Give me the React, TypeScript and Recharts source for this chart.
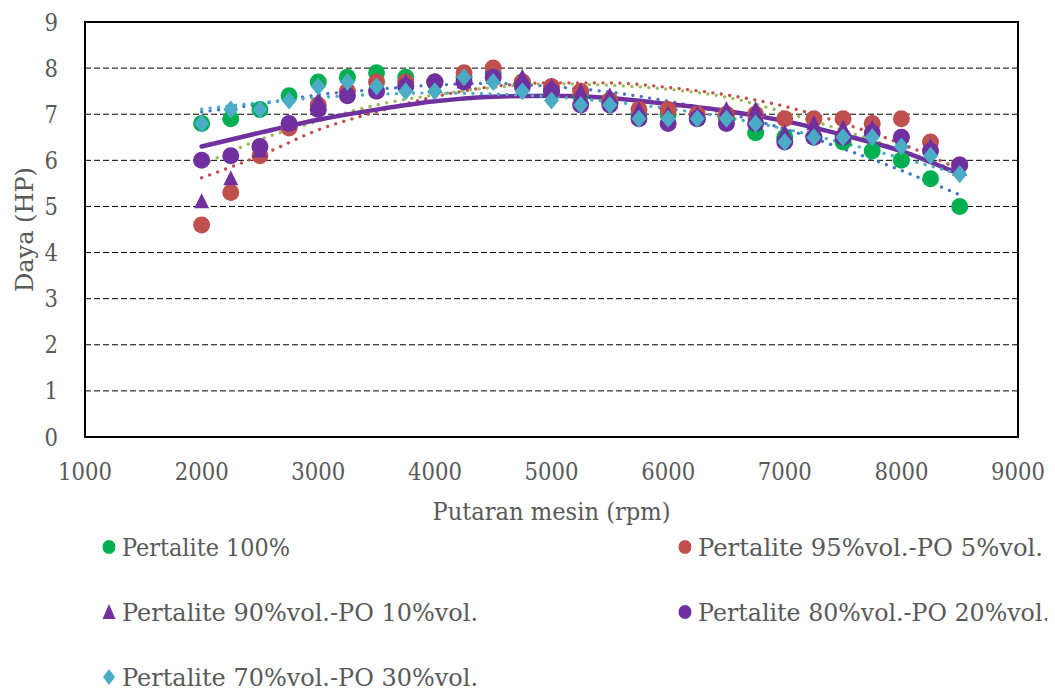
import React from "react";
import {
  ComposedChart,
  Scatter,
  Line,
  XAxis,
  YAxis,
  CartesianGrid,
  ReferenceArea,
} from "recharts";

// ---- data ----
const rpm = [
  2000, 2250, 2500, 2750, 3000, 3250, 3500, 3750, 4000, 4250, 4500, 4750, 5000,
  5250, 5500, 5750, 6000, 6250, 6500, 6750, 7000, 7250, 7500, 7750, 8000, 8250,
  8500,
];
const p100 = [
  6.8, 6.9, 7.1, 7.4, 7.7, 7.8, 7.9, 7.8, 7.7, 7.8, 7.9, 7.7, 7.5, 7.4, 7.3,
  7.0, 7.0, 6.9, 6.9, 6.6, 6.5, 6.5, 6.4, 6.2, 6.0, 5.6, 5.0,
];
const p95 = [
  4.6, 5.3, 6.1, 6.7, 7.2, 7.5, 7.7, 7.7, 7.7, 7.9, 8.0, 7.7, 7.6, 7.5, 7.3,
  7.1, 7.1, 7.0, 7.0, 7.0, 6.9, 6.9, 6.9, 6.8, 6.9, 6.4, 5.9,
];
const p90 = [
  5.1, 5.6, 6.2, 6.8, 7.3, 7.5, 7.6, 7.7, 7.6, 7.7, 7.8, 7.8, 7.6, 7.5, 7.4,
  7.1, 7.0, 7.0, 7.1, 7.1, 6.6, 6.8, 6.7, 6.7, 6.4, 6.3, 5.8,
];
const p80 = [
  6.0, 6.1, 6.3, 6.8, 7.1, 7.4, 7.5, 7.6, 7.7, 7.7, 7.8, 7.6, 7.5, 7.2, 7.2,
  6.9, 6.8, 6.9, 6.8, 6.8, 6.4, 6.5, 6.5, 6.6, 6.5, 6.2, 5.9,
];
const p70 = [
  6.8, 7.1, 7.1, 7.3, 7.6, 7.7, 7.6, 7.5, 7.5, 7.8, 7.7, 7.5, 7.3, 7.2, 7.2,
  6.9, 6.9, 6.9, 6.9, 6.8, 6.4, 6.5, 6.5, 6.5, 6.3, 6.1, 5.7,
];

// trendlines
const trendRpm = [
  2000, 2500, 3000, 3500, 4000, 4500, 5000, 5500, 6000, 6500, 7000, 7500, 8000,
  8500,
];
const trend100 = [7.05, 7.22, 7.42, 7.54, 7.63, 7.67, 7.6, 7.48, 7.28, 7.02, 6.68, 6.25, 5.78, 5.25];
const trend95 = [5.62, 6.1, 6.66, 7.05, 7.38, 7.6, 7.68, 7.68, 7.58, 7.42, 7.17, 6.8, 6.36, 5.8];
const trend90 = [5.9, 6.45, 6.85, 7.2, 7.42, 7.58, 7.66, 7.63, 7.54, 7.37, 7.04, 6.65, 6.22, 5.75];
const trend80 = [6.3, 6.6, 6.88, 7.1, 7.28, 7.38, 7.4, 7.35, 7.22, 7.07, 6.85, 6.55, 6.2, 5.7];
const trend70 = [7.11, 7.25, 7.36, 7.43, 7.46, 7.44, 7.38, 7.27, 7.12, 6.93, 6.68, 6.38, 6.05, 5.7];

const xTicks = [1000, 2000, 3000, 4000, 5000, 6000, 7000, 8000, 9000];
const yTicks = [0, 1, 2, 3, 4, 5, 6, 7, 8, 9];

const seriesNames = [
  "Pertalite 100%",
  "Pertalite 95%vol.-PO 5%vol.",
  "Pertalite 90%vol.-PO 10%vol.",
  "Pertalite 80%vol.-PO 20%vol.",
  "Pertalite 70%vol.-PO 30%vol.",
];
const seriesColors = ["#00B050", "#C0504D", "#7030A0", "#7030A0", "#4BACC6"];
const seriesShapes = ["circle", "circle", "triangle", "circle", "diamond"];
const seriesValues = [p100, p95, p90, p80, p70];

const trendValues = [trend100, trend95, trend90, trend80, trend70];
const trendColors = ["#4472C4", "#C0504D", "#9BBB59", "#7030A0", "#4BACC6"];
const trendSolid = [false, false, false, true, false];

// ---- style ----
const FONT = "'DejaVu Serif', serif";
const FS = 24;
const TEXT = "#595959";
const legendWidths = [168, 345, 356, 352, 356];
const legendCols = [101, 677];
const legendRows = [39, 104, 169];

const toPoints = (xs: number[], ys: number[]) =>
  xs.map((x, i) => ({ x, y: ys[i] }));

function makeShape(kind: string, color: string) {
  return (props: any) => {
    const { cx, cy } = props;
    if (cx == null || cy == null) return <g />;
    if (kind === "triangle") {
      return (
        <polygon
          points={`${cx},${cy - 8.5} ${cx + 7.5},${cy + 6.5} ${cx - 7.5},${cy + 6.5}`}
          fill={color}
        />
      );
    }
    if (kind === "diamond") {
      return (
        <polygon
          points={`${cx},${cy - 9} ${cx + 7.5},${cy} ${cx},${cy + 9} ${cx - 7.5},${cy}`}
          fill={color}
        />
      );
    }
    return <circle cx={cx} cy={cy} r={8.5} fill={color} />;
  };
}

function LegendMarker({ kind, color, x, y }: { kind: string; color: string; x: number; y: number }) {
  if (kind === "triangle")
    return <polygon points={`${x},${y - 8} ${x + 6.5},${y + 7} ${x - 6.5},${y + 7}`} fill={color} />;
  if (kind === "diamond")
    return <polygon points={`${x},${y - 8} ${x + 6},${y} ${x},${y + 8} ${x - 6},${y}`} fill={color} />;
  return <ellipse cx={x} cy={y} rx={6.5} ry={7} fill={color} />;
}

const XTick = (props: any) => {
  const { x, y, payload } = props;
  const s = String(payload.value);
  return (
    <text
      x={x}
      y={y + 18}
      textAnchor="middle"
      fill={TEXT}
      fontSize={FS}
      style={{ fontFamily: FONT }}
      textLength={s.length * 13.5}
      lengthAdjust="spacingAndGlyphs"
    >
      {s}
    </text>
  );
};

const YTick = (props: any) => {
  const { x, y, payload } = props;
  return (
    <text
      x={x}
      y={y + 8.5}
      textAnchor="end"
      fill={TEXT}
      fontSize={FS}
      style={{ fontFamily: FONT }}
      textLength={13.5}
      lengthAdjust="spacingAndGlyphs"
    >
      {String(payload.value)}
    </text>
  );
};

export default function App() {
  return (
    <div style={{ position: "relative", width: 1047, height: 683, background: "#fff" }}>
      <ComposedChart
        width={1047}
        height={530}
        margin={{ top: 14, right: 37, bottom: 0, left: 0 }}
      >
        <CartesianGrid
          vertical={false}
          horizontal
          stroke="#000"
          strokeDasharray="6 3"
          strokeWidth={1}
        />
        <XAxis
          dataKey="x"
          type="number"
          domain={[1000, 9000]}
          ticks={xTicks}
          allowDataOverflow
          height={101}
          axisLine={false}
          tickLine={false}
          tickSize={0}
          tickMargin={25}
          interval={0}
          tick={XTick}
          label={(p: any) => {
            const vb = p.viewBox || {};
            return (
              <text
                x={vb.x + vb.width / 2}
                y={vb.y + 83}
                textAnchor="middle"
                fill={TEXT}
                fontSize={FS}
                style={{ fontFamily: FONT }}
                textLength={238}
                lengthAdjust="spacingAndGlyphs"
              >
                Putaran mesin (rpm)
              </text>
            );
          }}
        />
        <YAxis
          dataKey="y"
          type="number"
          domain={[0, 9]}
          ticks={yTicks}
          allowDataOverflow
          width={77}
          axisLine={false}
          tickLine={false}
          tickSize={0}
          tickMargin={27}
          interval={0}
          tick={YTick}
          label={(p: any) => {
            const vb = p.viewBox || {};
            const cy = vb.y + vb.height / 2;
            return (
              <text
                x={25}
                y={cy}
                transform={`rotate(-90 25 ${cy})`}
                textAnchor="middle"
                fill={TEXT}
                fontSize={FS}
                style={{ fontFamily: FONT }}
                textLength={125}
                lengthAdjust="spacingAndGlyphs"
              >
                Daya (HP)
              </text>
            );
          }}
        />
        {seriesValues.map((vals, i) => (
          <Scatter
            key={"s" + i}
            name={seriesNames[i]}
            data={toPoints(rpm, vals)}
            dataKey="y"
            fill={seriesColors[i]}
            shape={makeShape(seriesShapes[i], seriesColors[i])}
            isAnimationActive={false}
          />
        ))}
        {trendValues.map((vals, i) => (
          <Line
            key={"t" + i}
            data={toPoints(trendRpm, vals)}
            dataKey="y"
            type="monotone"
            stroke={trendColors[i]}
            strokeWidth={trendSolid[i] ? 4.5 : 3.3}
            strokeDasharray={trendSolid[i] ? undefined : "0.1 8.4"}
            strokeLinecap="round"
            dot={false}
            activeDot={false}
            legendType="none"
            isAnimationActive={false}
          />
        ))}
        <ReferenceArea
          x1={1000}
          x2={9000}
          y1={0}
          y2={9}
          fill="none"
          fillOpacity={0}
          stroke="#000"
          strokeWidth={2}
          ifOverflow="visible"
        />
      </ComposedChart>
      <svg
        width={1047}
        height={183}
        style={{ position: "absolute", left: 0, top: 500, overflow: "visible" }}
      >
        {seriesNames.map((name, i) => {
          const col = i % 2;
          const row = Math.floor(i / 2);
          const x = legendCols[col];
          const y = legendRows[row];
          return (
            <g key={"l" + i}>
              <LegendMarker kind={seriesShapes[i]} color={seriesColors[i]} x={x} y={y} />
              <text
                x={x + 13}
                y={y + 9}
                fill={TEXT}
                fontSize={FS}
                style={{ fontFamily: FONT }}
                textLength={legendWidths[i]}
                lengthAdjust="spacingAndGlyphs"
              >
                {name}
              </text>
            </g>
          );
        })}
      </svg>
    </div>
  );
}
